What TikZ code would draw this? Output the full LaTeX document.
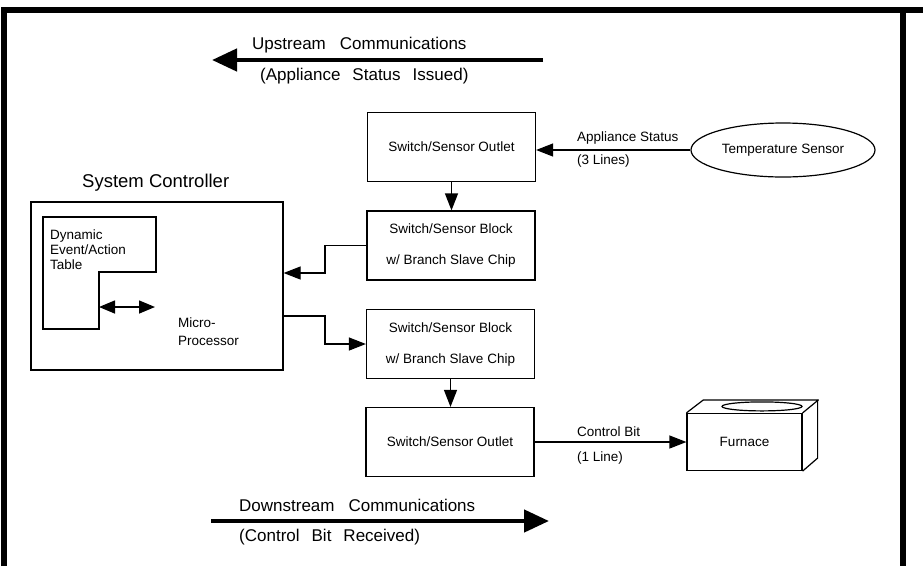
\documentclass[tikz,border=0pt]{standalone}
\usepackage{fontspec}
\setmainfont{Liberation Sans}
\usetikzlibrary{arrows.meta,shapes.geometric,calc}
\begin{document}
\begin{tikzpicture}[x=1pt,y=-1pt,
 box/.style={draw,line width=1.2pt,minimum width=168pt,minimum height=69pt,inner sep=0pt,align=center,font=\fontsize{13.5}{31}\selectfont},
 lbl/.style={inner sep=0pt,anchor=west,font=\fontsize{13.5}{15}\selectfont},
 big/.style={inner sep=0pt,anchor=west,font=\fontsize{17}{20}\selectfont},
 con/.style={line width=1.2pt,-{Triangle[length=17pt,width=13pt]}},
 fat/.style={line width=4.5pt,-{Triangle[length=25pt,width=22pt]}},
 frm/.style={line width=6pt}]
\fill[white] (0,0) rectangle (923,566);
\useasboundingbox (0,0) rectangle (923,566);
% frame
\draw[frm] (4,566) -- (4,10) -- (923,10);
\draw[frm] (903,10) -- (903,566);
% upstream
\coordinate (upR) at (543,60);
\coordinate (upL) at (212,60);
\draw[fat] (upR) -- (upL);
\node[big] (uptxt) at (252,45) {Upstream\hspace{14pt}Communications};
\node[big] (upsub) at (260,76) {(Appliance\hspace{12pt}Status\hspace{12pt}Issued)};
% downstream
\coordinate (dnL) at (211,521);
\coordinate (dnR) at (549,521);
\draw[fat] (dnL) -- (dnR);
\node[big] (dntxt) at (239,505) {Downstream\hspace{14pt}Communications};
\node[big] (dnsub) at (239,537) {(Control\hspace{12pt}Bit\hspace{12pt}Received)};
% chain boxes
\node[box] (out1) at (451.5,147) {Switch/Sensor Outlet};
\node[box] (blk1) at (451,245.5) {Switch/Sensor Block\\w/ Branch Slave Chip};
\node[box] (blk2) at (450.5,344) {Switch/Sensor Block\\w/ Branch Slave Chip};
\node[box] (out2) at (450,442) {Switch/Sensor Outlet};
% temperature sensor
\node[ellipse,draw,line width=1.2pt,minimum width=184pt,minimum height=54pt,inner sep=0pt,font=\fontsize{13.5}{15}\selectfont] (temp) at (783,150) {Temperature Sensor};
\draw[con] (temp.west) -- (temp.west -| out1.east);
\node[lbl] (as1) at (577,138) {Appliance Status};
\node[lbl] (as2) at (577,161) {(3 Lines)};
% furnace
\node[draw,line width=1.2pt,minimum width=115pt,minimum height=57pt,inner sep=0pt,font=\fontsize{13.5}{15}\selectfont] (furn) at (744.5,442) {Furnace};
\draw[line width=1.2pt,line join=round] (furn.north west) -- ++(17,-13) -- ++(115,0) -- (furn.north east);
\draw[line width=1.2pt,line join=round] ($(furn.north east)+(15,-13)$) -- ($(furn.south east)+(15,-13)$) -- (furn.south east);
\draw[line width=1.2pt] ($(furn.north)+(17.5,-6.5)$) ellipse [x radius=40pt, y radius=4.5pt];
\draw[con] (out2.east) -- (furn.west);
\node[lbl] (cb1) at (577,432) {Control Bit};
\node[lbl] (cb2) at (577,458) {(1 Line)};
% vertical links
\draw[con] (out1.south) -- (out1.south |- blk1.north);
\draw[con] (blk2.south) -- (blk2.south |- out2.north);
% system controller
\node[inner sep=0pt,anchor=west,font=\fontsize{18.5}{20}\selectfont] (sctitle) at (82,183) {System Controller};
\node[draw,line width=1.2pt,minimum width=252pt,minimum height=168pt,inner sep=0pt] (ctrl) at (157,286) {};
\draw[line width=1.2pt] (43,217) -- (156,217) -- (156,272) -- (99,272) -- (99,329) -- (43,329) -- cycle;
\node[lbl,align=left] (dyn) at (50,250) {Dynamic\\Event/Action\\Table};
\node[inner sep=0pt,anchor=west,align=left,font=\fontsize{13.5}{18}\selectfont] (mp) at (178,332) {Micro-\\Processor};
\coordinate (dL) at (99,307);
\coordinate (dR) at (155,307);
\draw[line width=1.5pt,{Triangle[length=16pt,width=13pt]}-{Triangle[length=16pt,width=13pt]}] (dL) -- (dR);
% controller links
\draw[con] (blk1.west) -- (325,245.5) |- (ctrl.east |- 0,273);
\draw[con] (ctrl.east |- 0,316) -| (325,344) -- (blk2.west);
\end{tikzpicture}
\end{document}
